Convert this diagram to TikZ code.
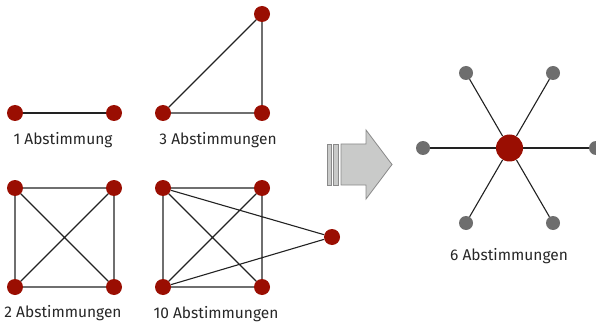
\documentclass[tikz,border=0pt]{standalone}
\usepackage{fontspec}
\setmainfont{Fira Sans}
\definecolor{dotred}{HTML}{9A0E02}
\definecolor{dotgray}{HTML}{6E6E6E}
\definecolor{arrowfill}{HTML}{C9CAC9}
\definecolor{arrowline}{HTML}{8A8A8A}
\definecolor{edgecol}{HTML}{222222}
\begin{document}
\begin{tikzpicture}[x=1pt,y=-1pt,
  rdot/.style={circle,fill=dotred,inner sep=0pt,minimum size=16pt},
  bigdot/.style={circle,fill=dotred,inner sep=0pt,minimum size=27pt},
  gdot/.style={circle,fill=dotgray,inner sep=0pt,minimum size=14pt},
  edge/.style={draw=edgecol,line width=1.1pt},
  lbl/.style={font=\fontsize{15.5}{18}\selectfont,text=black!85,inner sep=0pt},
  arr/.style={fill=arrowfill,draw=arrowline,line width=0.8pt}]
\useasboundingbox (0,0) rectangle (596,323);
% graph 1
\node[rdot] (a1) at (15,113) {};
\node[rdot] (a2) at (114,113) {};
\draw[edge] (a1) -- (a2);
\node[lbl] (l1) at (63,140) {1 Abstimmung};
% graph 3
\node[rdot] (b1) at (163,113) {};
\node[rdot] (b2) at (262,113) {};
\node[rdot] (b3) at (262,14) {};
\draw[edge] (b1) -- (b2) (b2) -- (b3) (b1) -- (b3);
\node[lbl] (l3) at (218,140) {3 Abstimmungen};
% graph 2
\node[rdot] (c1) at (15,188) {};
\node[rdot] (c2) at (114,188) {};
\node[rdot] (c3) at (15,287) {};
\node[rdot] (c4) at (114,287) {};
\draw[edge] (c1) -- (c2) (c2) -- (c4) (c4) -- (c3) (c3) -- (c1) (c1) -- (c4) (c2) -- (c3);
\node[lbl] (l2) at (63,313) {2 Abstimmungen};
% graph 10
\node[rdot] (d1) at (163,188) {};
\node[rdot] (d2) at (262,188) {};
\node[rdot] (d3) at (163,287) {};
\node[rdot] (d4) at (262,287) {};
\node[rdot] (d5) at (332,237) {};
\draw[edge] (d1) -- (d2) (d2) -- (d4) (d4) -- (d3) (d3) -- (d1) (d1) -- (d4) (d2) -- (d3) (d1) -- (d5) (d3) -- (d5);
\node[lbl] (l10) at (216,314) {10 Abstimmungen};
% arrow
\draw[arr] (327,144) rectangle (331,185);
\draw[arr] (333.5,144) rectangle (338.5,185);
\draw[arr] (341,144) -- (366,144) -- (366,130) -- (392,164.5) -- (366,199) -- (366,185) -- (341,185) -- cycle;
% star
\node[gdot] (s1) at (466,73) {};
\node[gdot] (s2) at (553,73) {};
\node[gdot] (s3) at (423,148) {};
\node[gdot] (s4) at (596,148) {};
\node[gdot] (s5) at (466,223) {};
\node[gdot] (s6) at (553,223) {};
\node[bigdot] (sc) at (509.5,148) {};
\foreach \s in {s1,s2,s3,s4,s5,s6} \draw[edge] (sc) -- (\s);
\node[lbl] (l6) at (509,256) {6 Abstimmungen};
\end{tikzpicture}
\end{document}
